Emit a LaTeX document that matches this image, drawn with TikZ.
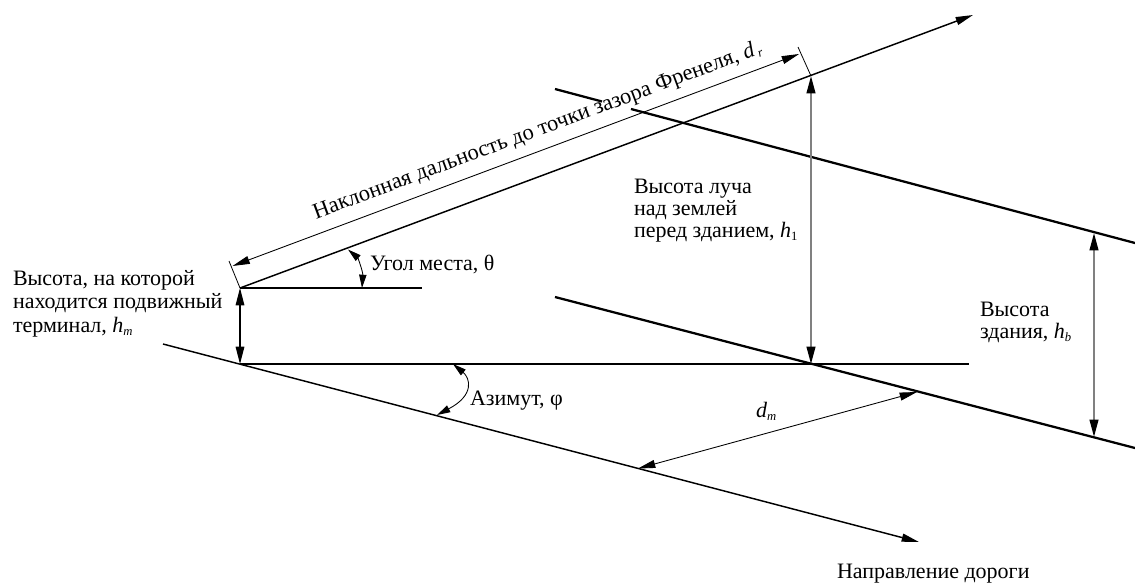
\documentclass[tikz,border=0pt]{standalone}
\usepackage{fontspec}
\setmainfont{Liberation Serif}
\usetikzlibrary{arrows.meta}
\newcommand{\symsub}[2]{\textit{#1}\raisebox{-2.5pt}{\fontsize{9.5}{11}\selectfont\textit{#2}}}
\tikzset{
  thinline/.style={line width=0.8pt,black},
  thickline/.style={line width=1.7pt,black},
  tick/.style={line width=0.6pt,black},
  dimline/.style={line width=0.65pt,black,{Triangle[length=13pt,width=6pt]}-{Triangle[length=13pt,width=6pt]}},
  arcdim/.style={line width=0.65pt,black,{Triangle[length=10pt,width=5.5pt]}-{Triangle[length=10pt,width=5.5pt]}},
  greydim/.style={draw=black!50,line width=1.5pt,{Triangle[length=13pt,width=6.5pt,fill=black,color=black]}-{Triangle[length=13pt,width=6.5pt,fill=black,color=black]}},
  blackdim/.style={line width=0.8pt,black,{Triangle[length=13pt,width=6.5pt]}-{Triangle[length=13pt,width=6.5pt]}},
  onetip/.style={line width=1.1pt,black,-{Triangle[length=13pt,width=6pt]}},
  lab/.style={inner sep=0pt,outer sep=0pt,anchor=base west,font=\fontsize{16.5}{19}\selectfont},
  slantlab/.style={inner sep=0pt,outer sep=0pt,anchor=base west,font=\fontsize{16.8}{19}\selectfont}
}
\begin{document}
\begin{tikzpicture}[x=0.75pt,y=-0.75pt]
\useasboundingbox (0,0) rectangle (1135,583);
% key points
\coordinate (mob) at (240,288);
\coordinate (gnd) at (240,364);
\coordinate (beamtip) at (973,15);
\coordinate (fres) at (811,76);
\coordinate (horizend) at (422,288);
\coordinate (gndend) at (969,364);
\coordinate (roadstart) at (163,344);
\coordinate (roadtip) at (919,542);
\coordinate (t1) at (229,261);
\coordinate (t2) at (798,47);
\coordinate (dr1) at (232.5,266);
\coordinate (dr2) at (799,54);
\coordinate (nearstart) at (555,297);
\coordinate (nearb) at (811,364);
\coordinate (nearend) at (1135,448);
\coordinate (farstart) at (555,89);
\coordinate (fargap1) at (602,101.5);
\coordinate (fargap2) at (631,109);
\coordinate (farend) at (1135,243);
\coordinate (hbtop) at (1094,233);
\coordinate (hbbot) at (1094,437);
\coordinate (dm1) at (917,392);
\coordinate (dm2) at (638,468.5);
\coordinate (el1) at (348,249.5);
\coordinate (el2) at (362,288);
\coordinate (az1) at (453,364);
\coordinate (az2) at (437,415);
% main lines
\draw[onetip] (mob) -- (beamtip);
\draw[thinline] (mob) -- (horizend);
\draw[thinline] (gnd) -- (gndend);
\draw[onetip] (roadstart) -- (roadtip);
\draw[thickline] (nearstart) -- (nearend);
\draw[thickline] (farstart) -- (fargap1);
\draw[thickline] (fargap2) -- (farend);
% dimension lines
\draw[tick] (mob) -- (t1);
\draw[tick] (fres) -- (t2);
\draw[dimline] (dr1) -- (dr2);
\draw[blackdim] (mob) -- (gnd);
\draw[greydim] (fres) -- (nearb);
\draw[greydim] (hbtop) -- (hbbot);
\draw[dimline] (dm1) -- (dm2);
\draw[arcdim] (el1) .. controls (358,258) and (363,272) .. (el2);
\draw[arcdim] (az1) .. controls (470,378) and (475,395) .. (az2);
% labels
\node[slantlab,rotate=20.4] (lblslant) at (316,219) {Наклонная дальность до точки зазора Френеля, \symsub{d}{\,r}};
\node[lab] (lblelev) at (370,270) {Угол места, θ};
\node[lab] (lblaz) at (470,405) {Азимут, φ};
\node[lab] (lbldm) at (756,417) {\symsub{d}{m}};
\node[lab] (lblroad) at (837,578) {Направление дороги};
\node[lab] (lblm1) at (13,285) {Высота, на которой};
\node[lab] (lblm2) at (13,308.5) {находится подвижный};
\node[lab] (lblm3) at (13,332) {терминал, \symsub{h}{m}};
\node[lab] (lblb1) at (634,193) {Высота луча};
\node[lab] (lblb2) at (634,215) {над землей};
\node[lab] (lblb3) at (634,237) {перед зданием, \symsub{h}{\upshape 1}};
\node[lab] (lblh1) at (980,316) {Высота};
\node[lab] (lblh2) at (980,338) {здания, \symsub{h}{b}};
\end{tikzpicture}
\end{document}
